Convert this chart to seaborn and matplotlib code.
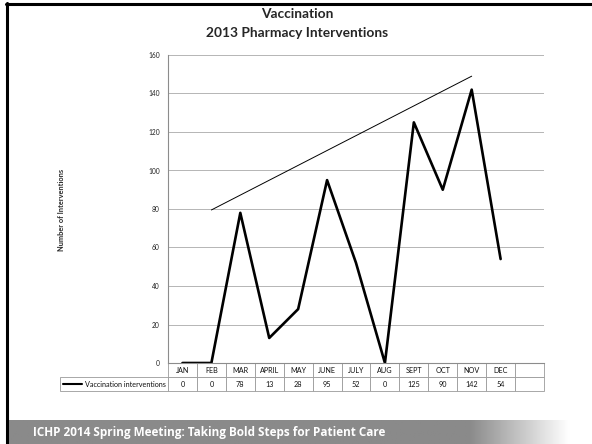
import numpy as np
import pandas as pd
import matplotlib
matplotlib.use("Agg")
import matplotlib.pyplot as plt
from matplotlib.lines import Line2D
from matplotlib.table import Table
import seaborn as sns

# Monthly vaccination interventions, 2013
months = ["JAN", "FEB", "MAR", "APRIL", "MAY", "JUNE", "JULY", "AUG",
          "SEPT", "OCT", "NOV", "DEC"]
interventions = [0, 0, 78, 13, 28, 95, 52, 0, 125, 90, 142, 54]

# Hand-drawn upward guide line (from FEB to NOV)
guide_months = ["FEB", "NOV"]
guide_values = [79.5, 149]

y_ticks = [0, 20, 40, 60, 80, 100, 120, 140, 160]
series_name = "Vaccination interventions"

sns.set_theme(style="white")
plt.rcParams["font.family"] = ["Lato", "DejaVu Sans"]

W, H = 592, 444
fig = plt.figure(figsize=(W / 100, H / 100), dpi=100)

# Chart frame
ax = fig.add_axes([168 / W, 1 - 363 / H, (544 - 168) / W, (363 - 55) / H])

df = pd.DataFrame({"pos": np.arange(len(months)), "value": interventions,
                   "month": months})
sns.lineplot(data=df, x="pos", y="value", ax=ax, color="black", lw=1.9,
             legend=False)

guide_pos = [months.index(m) for m in guide_months]
ax.plot(guide_pos, guide_values, color="black", lw=0.7)

ncols = len(months) + 1
ax.set_xlim(-0.5, ncols - 0.5)
ax.set_ylim(0, 160)
ax.set_yticks(y_ticks)
ax.set_yticklabels([str(t) for t in y_ticks], fontsize=4.8, color="#222222")
ax.set_xticks([])
ax.set_xlabel("")
ax.set_ylabel("")
ax.tick_params(axis="y", length=0, pad=6)
ax.yaxis.grid(True, color="#b5b5b5", lw=0.7)
ax.set_axisbelow(True)
for side in ["top", "right"]:
    ax.spines[side].set_visible(False)
for side in ["left", "bottom"]:
    ax.spines[side].set_color("#8c8c8c")
    ax.spines[side].set_linewidth(0.8)

# Data table under the plot: month header row and value row
label_w = (168 - 60) / (544 - 168)
tbl_h = (391 - 363) / (363 - 55)
row_h = tbl_h / 2
col_w = 1 / ncols
tbl = Table(ax, bbox=[0, -tbl_h, 1, tbl_h])
header = months + [""]
values_txt = [str(v) for v in interventions] + [""]
for c in range(ncols):
    tbl.add_cell(0, c, width=col_w, height=row_h, text=header[c], loc="center")
    tbl.add_cell(1, c, width=col_w, height=row_h, text=values_txt[c],
                 loc="center")
tbl.add_cell(1, -1, width=label_w, height=row_h, text=series_name,
             loc="right")
tbl.auto_set_font_size(False)
tbl.set_fontsize(5.2)
for (r, c), cell in tbl.get_celld().items():
    cell.set_edgecolor("#9a9a9a")
    cell.set_linewidth(0.6)
    cell.get_text().set_color("#111111")
    cell.PAD = 0.02
ax.add_table(tbl)

# Line sample in the series label cell
row_mid = -tbl_h * 0.75
ax.add_line(Line2D([-label_w + 0.008, -label_w + 0.058], [row_mid, row_mid],
                   transform=ax.transAxes, color="black", lw=1.5,
                   clip_on=False))

# Titles and axis label
fig.text(297 / W, 1 - 14 / H, "Vaccination", ha="center", va="center",
         fontsize=9.9, fontweight="bold")
fig.text(297 / W, 1 - 33 / H, "2013 Pharmacy Interventions", ha="center",
         va="center", fontsize=9.9, fontweight="bold")
fig.text(62 / W, 1 - 210 / H, "Number of Interventions", rotation=90,
         ha="center", va="center", fontsize=5.3, fontweight="bold")

# Slide frame lines
fig.add_artist(Line2D([6 / W, 1], [1 - 4 / H, 1 - 4 / H],
                      transform=fig.transFigure, color="black", lw=2.2))
fig.add_artist(Line2D([7 / W, 7 / W], [0, 1 - 3 / H],
                      transform=fig.transFigure, color="black", lw=2.2))

# Footer banner with grey-to-white gradient
bax = fig.add_axes([8 / W, 0, 1 - 8 / W, 24 / H])
xs = np.linspace(8, W, 300)
grad = np.where(xs < 470, 0.0, np.clip((xs - 470) / 100, 0, 1))
shade = 0.54 + (1.0 - 0.54) * grad
bax.imshow(shade[np.newaxis, :], cmap="gray", vmin=0, vmax=1,
           aspect="auto", extent=[0, 1, 0, 1])
bax.set_xlim(0, 1)
bax.set_ylim(0, 1)
bax.axis("off")
fig.text(33 / W, 1 - 432 / H,
         "ICHP 2014 Spring Meeting: Taking Bold Steps for Patient Care",
         ha="left", va="center", fontsize=8.5, fontweight="bold",
         color="white", family=["Open Sans", "DejaVu Sans"])

fig.savefig("out.png", dpi=100)
